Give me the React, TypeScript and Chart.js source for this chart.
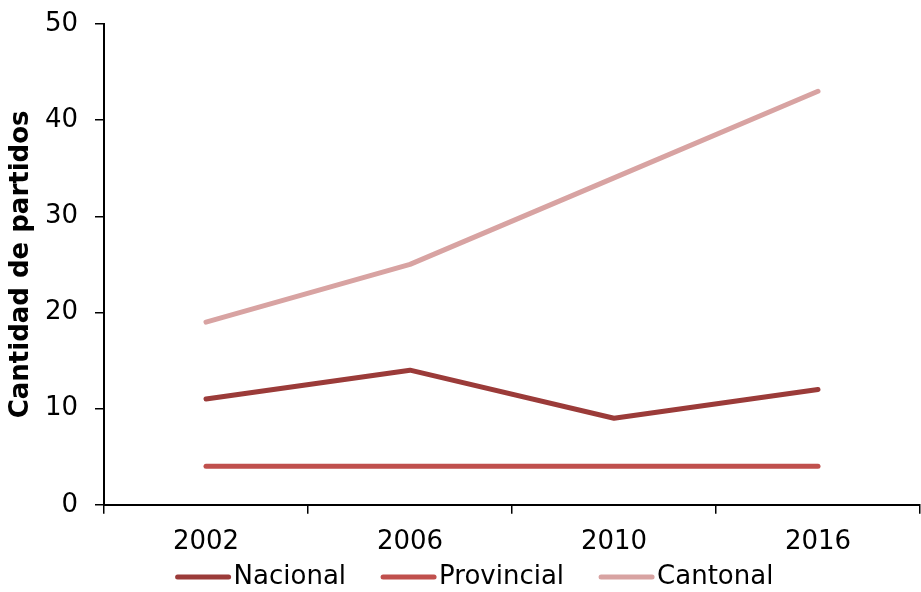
import React, { useEffect, useRef } from "react";
import { Chart, registerables } from "chart.js";

Chart.register(...registerables);

const years = ["2002", "2006", "2010", "2016"];
const nacional = [11, 14, 9, 12];
const provincial = [4, 4, 4, 4];
const cantonal = [19, 25, 34, 43];

const FONT = "'DejaVu Sans', Verdana, sans-serif";
const FS = 26;

const bottomLegend = {
  id: "bottomLegend",
  afterDraw(chart: any) {
    const ctx = chart.ctx as CanvasRenderingContext2D;
    const ds = chart.data.datasets;
    const markerW = 53;
    const gap = 5;
    const itemGap = 35;
    ctx.save();
    ctx.font = `${FS}px ${FONT}`;
    const widths = ds.map((d: any) => markerW + gap + ctx.measureText(d.label).width);
    const total = widths.reduce((a: number, b: number) => a + b, 0) + itemGap * (ds.length - 1);
    let x = chart.width / 2 + 14 - total / 2;
    const y = chart.height - 15;
    ds.forEach((d: any, i: number) => {
      ctx.strokeStyle = d.borderColor;
      ctx.lineWidth = 5;
      ctx.lineCap = "round";
      ctx.beginPath();
      ctx.moveTo(x + 2, y);
      ctx.lineTo(x + markerW, y);
      ctx.stroke();
      ctx.fillStyle = "#000";
      ctx.textBaseline = "middle";
      ctx.textAlign = "left";
      ctx.fillText(d.label, x + markerW + gap, y);
      x += widths[i] + itemGap;
    });
    ctx.restore();
  },
};

export default function App() {
  const ref = useRef<HTMLCanvasElement | null>(null);
  useEffect(() => {
    if (!ref.current) return;
    const mk = (label: string, data: number[], color: string) => ({
      label,
      data,
      borderColor: color,
      backgroundColor: color,
      borderWidth: 5,
      borderCapStyle: "round" as const,
      borderJoinStyle: "round" as const,
      pointRadius: 0,
      pointHoverRadius: 0,
      tension: 0,
      fill: false,
    });
    const chart = new Chart(ref.current, {
      type: "line",
      data: {
        labels: years,
        datasets: [
          mk("Nacional", nacional, "#9b3b39"),
          mk("Provincial", provincial, "#c0504d"),
          mk("Cantonal", cantonal, "#d8a3a2"),
        ],
      },
      plugins: [bottomLegend],
      options: {
        animation: false,
        responsive: false,
        maintainAspectRatio: false,
        layout: { padding: { left: 6, right: 1, top: 24, bottom: 21 } },
        plugins: {
          tooltip: { enabled: false },
          legend: { display: false },
        },
        scales: {
          x: {
            offset: true,
            grid: {
              offset: true,
              drawOnChartArea: false,
              drawTicks: true,
              tickLength: 9,
              color: "#000",
              lineWidth: 1.5,
            },
            border: { color: "#000", width: 2 },
            ticks: {
              color: "#000",
              padding: 13,
              font: { family: FONT, size: FS },
              maxRotation: 0,
            },
          },
          y: {
            min: 0,
            max: 50,
            afterFit: (scale: any) => {
              scale.width = 98;
              scale.paddingTop = 0;
              scale.paddingBottom = 0;
            },
            grid: {
              drawOnChartArea: false,
              drawTicks: true,
              tickLength: 9,
              color: "#000",
              lineWidth: 1.5,
            },
            border: { color: "#000", width: 2 },
            ticks: {
              stepSize: 10,
              color: "#000",
              padding: 17,
              font: { family: FONT, size: FS },
            },
            title: {
              display: true,
              text: "Cantidad de partidos",
              color: "#000",
              font: { family: FONT, size: FS, weight: "bold" },
              padding: { top: 0, bottom: 9 },
            },
          },
        },
      },
    });
    return () => chart.destroy();
  }, []);
  return (
    <div style={{ position: "fixed", left: 0, top: 0, width: 921, height: 592, background: "#fff" }}>
      <canvas ref={ref} width={921} height={592} style={{ display: "block", width: 921, height: 592 }} />
    </div>
  );
}
